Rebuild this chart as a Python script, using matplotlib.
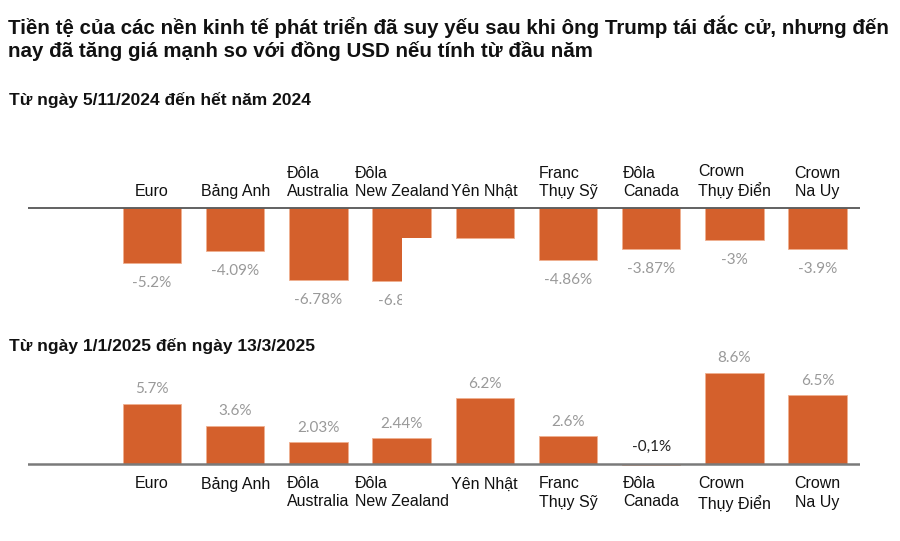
import matplotlib
matplotlib.use("Agg")
import matplotlib.pyplot as plt
from matplotlib.patches import Rectangle

# ---------------- data ----------------
categories_top = ["Euro", "Bảng Anh", "Đôla\nAustralia", "Đôla\nNew Zealand", "Yên Nhật",
                  "Franc\nThụy Sỹ", "Đôla\nCanada", "Crown\nThụy Điển", "Crown\nNa Uy"]
categories_bottom = ["Euro", "Bảng Anh", "Đôla\nAustralia", "Đôla\nNew Zealand", "Yên Nhật",
                     "Franc\nThụy Sỹ", "Đôla\nCanada", "Crown\nThụy Điển", "Crown\nNa Uy"]
values_top = [-5.2, -4.09, -6.78, -6.85, -2.83, -4.86, -3.87, -3.0, -3.9]
labels_top = ["-5.2%", "-4.09%", "-6.78%", "-6.85%", "", "-4.86%", "-3.87%", "-3%", "-3.9%"]
values_bottom = [5.7, 3.6, 2.03, 2.44, 6.2, 2.6, -0.1, 8.6, 6.5]
labels_bottom = ["5.7%", "3.6%", "2.03%", "2.44%", "6.2%", "2.6%", "-0,1%", "8.6%", "6.5%"]

title = ("Tiền tệ của các nền kinh tế phát triển đã suy yếu sau khi ông Trump tái đắc cử, nhưng đến\n"
         "nay đã tăng giá mạnh so với đồng USD nếu tính từ đầu năm")
subtitle_top = "Từ ngày 5/11/2024 đến hết năm 2024"
subtitle_bottom = "Từ ngày 1/1/2025 đến ngày 13/3/2025"

# ---------------- style ----------------
W, H = 900, 541
BAR = "#d4602c"
EDGE = "#f0b090"
GREY = "#999999"
SANS = ["Liberation Sans", "DejaVu Sans"]
LIGHT = ["Lato", "DejaVu Sans"]

fig = plt.figure(figsize=(W / 100, H / 100), dpi=100)
fig.patch.set_facecolor("white")

PX_PER_UNIT = 10.6          # pixels per percent
X0, DX = 152.0, 83.2        # first bar centre and spacing (px)
AX_L, AX_R = 28, 860


def make_axes(top_px, bottom_px, zero_px):
    ax = fig.add_axes([AX_L / W, 1 - bottom_px / H, (AX_R - AX_L) / W, (bottom_px - top_px) / H])
    ax.set_xlim((AX_L - X0) / DX, (AX_R - X0) / DX)
    ax.set_ylim(-(bottom_px - zero_px) / PX_PER_UNIT, (zero_px - top_px) / PX_PER_UNIT)
    ax.axis("off")
    return ax


# ---------------- title ----------------
fig.text(8 / W, 1 - 15 / H, title, ha="left", va="top", fontsize=14.8,
         fontweight="bold", family=SANS, color="#111111", linespacing=1.2)
fig.text(9 / W, 1 - 99.5 / H, subtitle_top, ha="left", va="center", fontsize=12.5,
         fontweight="bold", family=SANS, color="#111111")
fig.text(9 / W, 1 - 345.5 / H, subtitle_bottom, ha="left", va="center", fontsize=12.5,
         fontweight="bold", family=SANS, color="#111111")

# ---------------- top panel ----------------
ax1 = make_axes(150, 320, 208)
x = list(range(len(values_top)))
ax1.bar(x, values_top, width=0.7, color=BAR, edgecolor=EDGE, linewidth=0.6, zorder=2)
ax1.axhline(0, color="#555555", lw=1.3, zorder=3)
for xi, v, lab, cat in zip(x, values_top, labels_top, categories_top):
    ax1.annotate(cat, (xi, 0), xytext=(0, 6.5), textcoords="offset points",
                 ha="center", va="bottom", multialignment="left",
                 fontsize=11.5, family=SANS, color="#111111", linespacing=1.25, zorder=3)
    if lab:
        ax1.annotate(lab, (xi, v), xytext=(0, -14.5), textcoords="offset points",
                     ha="center", va="center", fontsize=11, family=LIGHT,
                     color=GREY, zorder=3)
# white overlay artefact covering part of New Zealand / Japan bars
ylo = ax1.get_ylim()[0]
ax1.add_patch(Rectangle((x[3], ylo), 0.6, values_top[4] - ylo, facecolor="white",
                        edgecolor="none", zorder=5))

# ---------------- bottom panel ----------------
ax2 = make_axes(355, 530, 464)
ax2.bar(x, values_bottom, width=0.7, color=BAR, edgecolor=EDGE, linewidth=0.6, zorder=2)
ax2.axhline(0, color="#7a7a7a", lw=1.8, zorder=3)
for xi, v, lab, cat in zip(x, values_bottom, labels_bottom, categories_bottom):
    ax2.annotate(cat, (xi, 0), xytext=(0, -9), textcoords="offset points",
                 ha="center", va="top", multialignment="left",
                 fontsize=11.5, family=SANS, color="#111111", linespacing=1.25, zorder=3)
    neg = v < 0
    ax2.annotate(lab, (xi, max(v, 0)), xytext=(0, 12 if neg else 10.5),
                 textcoords="offset points", ha="center", va="center", fontsize=11,
                 family=LIGHT, color="#222222" if neg else GREY, zorder=3)

fig.savefig("out.png", dpi=100, facecolor="white")
